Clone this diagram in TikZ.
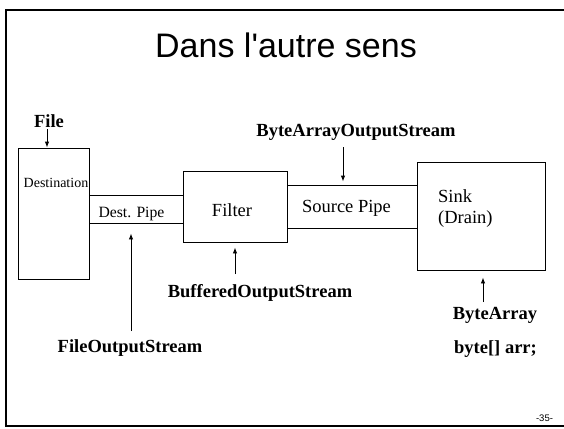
\documentclass[tikz,border=0pt]{standalone}
\usepackage{fontspec}
\setmainfont{Liberation Serif}
\newfontfamily\arialf{Liberation Sans}
\usetikzlibrary{arrows.meta,calc}
\begin{document}
\begin{tikzpicture}[x=1pt,y=-1pt,
  box/.style={draw,line width=0.9pt,inner sep=0pt},
  lbl/.style={font=\bfseries\fontsize{18.5}{20}\selectfont,anchor=base,inner sep=0pt},
  txt/.style={font=\fontsize{18.5}{20}\selectfont,anchor=base,inner sep=0pt},
  arr/.style={line width=0.9pt,-{Latex[length=6pt,width=4.5pt]}}]
\clip (0,0) rectangle (564,428);
\fill[white] (0,0) rectangle (564,428);
\draw[line width=2pt] (5.5,10) rectangle (600,426);
% boxes
\node[box,minimum width=94pt,minimum height=28pt] (dpipe) at (136,209) {};
\node[box,minimum width=130pt,minimum height=43pt] (spipe) at (352,206.5) {};
\node[box,minimum width=71pt,minimum height=131pt] (dest) at (53.5,213.5) {};
\node[box,minimum width=104pt,minimum height=71pt] (filter) at (235,206.5) {};
\node[box,minimum width=128pt,minimum height=108pt] (sink) at (481,216) {};
% box texts
\node[txt,font=\fontsize{14}{16}\selectfont] (destT) at (56,187) {Destination};
\node[txt,font=\fontsize{15.7}{17}\selectfont] (dpT) at (131.5,217) {Dest. Pipe};
\node[txt] (filT) at (232,216) {Filter};
\node[txt] (spT) at (346.5,212) {Source Pipe};
\node[txt,anchor=base west] (sinkT) at (438,202) {Sink};
\node[txt,anchor=base west] (drainT) at (438,223) {(Drain)};
% title and page
\node[font=\arialf\fontsize{34}{38}\selectfont,anchor=base,inner sep=0pt] (title) at (286,57) {Dans l'autre sens};
\node[font=\arialf\fontsize{9.5}{10}\selectfont,anchor=base,inner sep=0pt] (pg) at (544.5,421) {-35-};
% labels
\node[lbl] (file) at (49,127) {File};
\node[lbl] (baos) at (356,136) {ByteArrayOutputStream};
\node[lbl] (bos) at (260,297) {BufferedOutputStream};
\node[lbl] (fos) at (130,352) {FileOutputStream};
\node[lbl] (ba) at (495,319) {ByteArray};
\node[lbl] (barr) at (495.5,353) {byte[] arr;};
% arrows
\coordinate (fileA) at (47,129);
\draw[arr] (fileA) -- (fileA |- dest.north);
\coordinate (baosA) at (343,147);
\draw[arr] (baosA) -- ($(baosA |- spipe.north)+(0,-3)$);
\coordinate (bufA) at (235,274);
\draw[arr] (bufA) -- ($(bufA |- filter.south)+(0,5)$);
\coordinate (fosA) at (131,331);
\draw[arr] (fosA) -- ($(fosA |- dpipe.south)+(0,10)$);
\coordinate (baA) at (483,302);
\draw[arr] (baA) -- ($(baA |- sink.south)+(0,7)$);
\end{tikzpicture}
\end{document}
